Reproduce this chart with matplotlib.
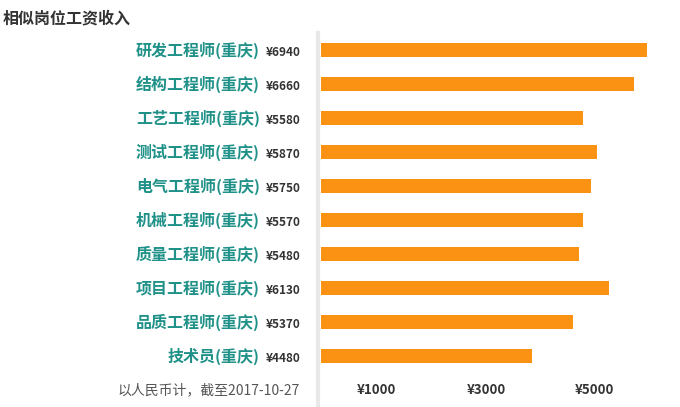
import matplotlib
matplotlib.use('Agg')
import matplotlib.pyplot as plt
import matplotlib.transforms as mtransforms

plt.rcParams['font.family'] = ['Noto Sans CJK SC', 'DejaVu Sans']

# 岗位名称与工资
jobs = ['研发工程师(重庆)', '结构工程师(重庆)', '工艺工程师(重庆)', '测试工程师(重庆)',
        '电气工程师(重庆)', '机械工程师(重庆)', '质量工程师(重庆)', '项目工程师(重庆)',
        '品质工程师(重庆)', '技术员(重庆)']
salary = [6940, 6660, 5580, 5870, 5750, 5570, 5480, 6130, 5370, 4480]
tick_labels = ['¥1000', '¥3000', '¥5000']
tick_pos = [1170, 3510, 5810]  # 标签在图中的位置（原图刻度与柱子不对齐）

W, H = 680, 407
fig = plt.figure(figsize=(W / 100, H / 100), dpi=100)
fig.patch.set_facecolor('white')

# 坐标区：左边灰线在 x=318，顶部 y=33
ax = fig.add_axes([318 / W, 0, 1 - 318 / W, 1 - 33 / H])
px = 0.047  # 每元对应像素
ax.set_xlim(-3 / px, (W - 318) / px - 3 / px)
ax.set_ylim(10.5, -0.5)

y = list(range(len(jobs)))
ax.barh(y, salary, height=14 / 34, color='#fb9214', left=0)

for s in ['top', 'right', 'bottom']:
    ax.spines[s].set_visible(False)
ax.spines['left'].set_color('#e8e8e8')
ax.spines['left'].set_linewidth(3)
ax.set_xticks([])
ax.set_yticks([])

trans = mtransforms.blended_transform_factory(fig.transFigure, ax.transData)
for i, (name, val) in enumerate(zip(jobs, salary)):
    ax.text(260 / W, i, name, transform=trans, ha='right', va='center',
            fontsize=11.5, fontweight='bold', color='#1f9188', clip_on=False)
    ax.text(266 / W, i + 0.06, '¥%d' % val, transform=trans, ha='left', va='center',
            fontsize=8.5, fontweight='bold', color='#333333', clip_on=False)

for p, lab in zip(tick_pos, tick_labels):
    ax.text(p, 10.0, lab, ha='center', va='center', fontsize=9.5,
            fontweight='bold', color='#333333')

ax.text(300 / W, 10.0, '以人民币计，截至2017-10-27', transform=trans, ha='right',
        va='center', fontsize=10, color='#555555', clip_on=False)

fig.text(3 / W, 1 - 18 / H, '相似岗位工资收入', ha='left', va='center',
         fontsize=11.5, fontweight='bold', color='#333333')

fig.savefig('out.png', dpi=100)
